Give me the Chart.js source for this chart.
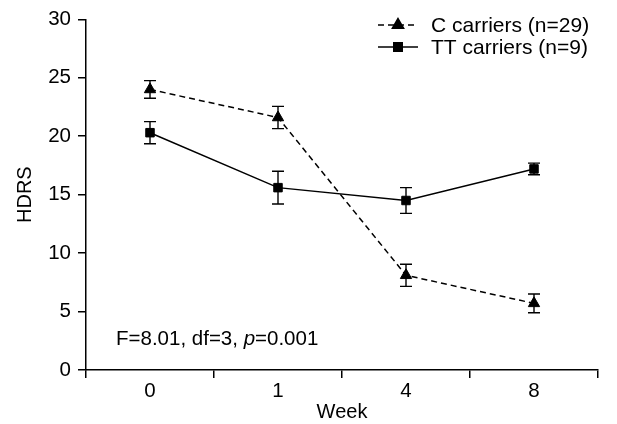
<!DOCTYPE html>
<html>
<head>
<meta charset="utf-8">
<script src="https://cdn.jsdelivr.net/npm/chart.js@4"></script>
<style>
	html, body { margin: 0; padding: 0; background: #fff; }
	#wrap { width: 617px; height: 424px; }
</style>
</head>
<body>
<div id="wrap"><canvas id="hdrs"></canvas></div>
<script>
const weeks = ['0', '1', '4', '8'];
const cCarriers = [24.0, 21.6, 8.1, 5.7];
const cErr = [0.75, 0.95, 0.95, 0.8];
const ttCarriers = [20.3, 15.6, 14.5, 17.2];
const ttErr = [0.95, 1.4, 1.1, 0.5];
const yTicks = [0, 5, 10, 15, 20, 25, 30];

const FONT = "'Liberation Sans', Arial, sans-serif";

// error bars + legend + stats note
const extras = {
	id: 'extras',
	afterDatasetsDraw(chart) {
		const ctx = chart.ctx;
		const x = chart.scales.x, y = chart.scales.y;
		const errs = [cErr, ttErr];
		ctx.save();
		ctx.strokeStyle = '#000';
		ctx.lineWidth = 1.4;
		chart.data.datasets.forEach((ds, i) => {
			ds.data.forEach((v, j) => {
				const px = x.getPixelForValue(j);
				const top = y.getPixelForValue(v + errs[i][j]);
				const bot = y.getPixelForValue(v - errs[i][j]);
				ctx.beginPath();
				ctx.moveTo(px, top); ctx.lineTo(px, bot);
				ctx.moveTo(px - 6, top); ctx.lineTo(px + 6, top);
				ctx.moveTo(px - 6, bot); ctx.lineTo(px + 6, bot);
				ctx.stroke();
			});
		});

		// legend
		ctx.font = '21px ' + FONT;
		ctx.textBaseline = 'middle';
		ctx.fillStyle = '#000';
		chart.data.datasets.forEach((ds, i) => {
			const ly = 25 + i * 22;
			ctx.beginPath();
			ctx.setLineDash(ds.borderDash || []);
			ctx.lineWidth = ds.borderWidth;
			ctx.moveTo(378, ly); ctx.lineTo(418, ly);
			ctx.stroke();
			ctx.setLineDash([]);
			Chart.helpers.drawPoint(ctx, { pointStyle: ds.pointStyle, radius: ds.pointRadius, borderWidth: 1 }, 398, ly);
			ctx.fill();
			ctx.fillText(ds.label, 431, ly + 1);
		});

		// stats note
		let tx = 116;
		const ty = 339;
		const parts = [['F=8.01, df=3, ', ''], ['p', 'italic '], ['=0.001', '']];
		parts.forEach(([t, style]) => {
			ctx.font = style + '20.5px ' + FONT;
			ctx.fillText(t, tx, ty);
			tx += ctx.measureText(t).width;
		});
		ctx.restore();
	}
};

new Chart(document.getElementById('hdrs'), {
	type: 'line',
	data: {
		labels: weeks,
		datasets: [
			{
				label: 'C carriers (n=29)',
				data: cCarriers,
				borderColor: '#000',
				backgroundColor: '#000',
				borderWidth: 1.5,
				borderDash: [6, 4],
				pointStyle: 'triangle',
				pointRadius: 6.5,
				pointBorderWidth: 1,
				tension: 0,
			},
			{
				label: 'TT carriers (n=9)',
				data: ttCarriers,
				borderColor: '#000',
				backgroundColor: '#000',
				borderWidth: 1.5,
				pointStyle: 'rect',
				pointRadius: 6,
				pointBorderWidth: 1,
				tension: 0,
			},
		],
	},
	options: {
		responsive: true,
		maintainAspectRatio: false,
		animation: false,
		layout: { padding: { top: 8, right: 19, left: 0, bottom: 0 } },
		plugins: {
			legend: { display: false },
			tooltip: { enabled: false },
		},
		scales: {
			x: {
				offset: true,
				grid: { offset: true, drawOnChartArea: false, drawTicks: true, tickLength: 8, color: '#000', lineWidth: 1.5 },
				border: { color: '#000', width: 1.5 },
				ticks: { color: '#000', font: { family: FONT, size: 20.5 }, padding: 1 },
				title: { display: true, text: 'Week', color: '#000', font: { family: FONT, size: 20 }, padding: 0 },
				afterFit(scale) { scale.height = 54; },
			},
			y: {
				min: 0,
				max: 30,
				afterBuildTicks(scale) { scale.ticks = yTicks.map(v => ({ value: v })); },
				grid: { drawOnChartArea: false, drawTicks: true, tickLength: 8, color: '#000', lineWidth: 1.5 },
				border: { color: '#000', width: 1.5 },
				ticks: { color: '#000', font: { family: FONT, size: 20.5 }, padding: 7 },
				title: { display: true, text: 'HDRS', color: '#000', font: { family: FONT, size: 20 }, padding: { top: 13, bottom: 0 } },
				afterFit(scale) { scale.width = 86; },
			},
		},
	},
	plugins: [extras],
});
</script>
</body>
</html>
